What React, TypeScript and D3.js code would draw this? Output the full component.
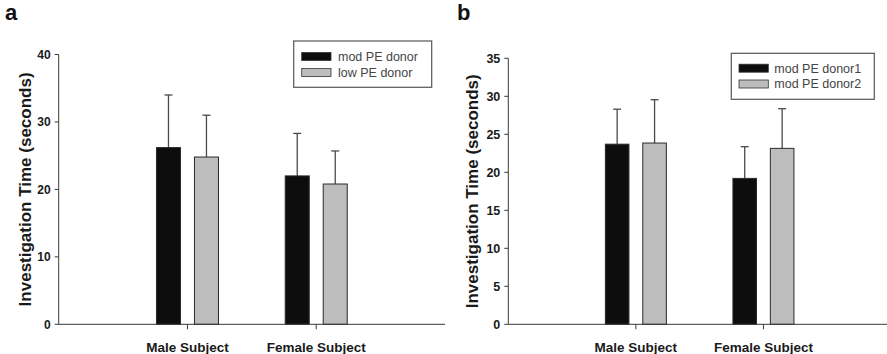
import React from "react";
import * as d3 from "d3";

const categories = ["Male Subject", "Female Subject"];

const seriesA = ["mod PE donor", "low PE donor"];
const meansA = [
  [26.2, 24.8],
  [22.0, 20.8],
];
const errTopA = [
  [34.0, 31.0],
  [28.3, 25.7],
];
const ticksA = [0, 10, 20, 30, 40];

const seriesB = ["mod PE donor1", "mod PE donor2"];
const meansB = [
  [23.7, 23.85],
  [19.2, 23.15],
];
const errTopB = [
  [28.3, 29.55],
  [23.37, 28.37],
];
const ticksB = [0, 5, 10, 15, 20, 25, 30, 35];

const colors = ["#0d0d0d", "#bdbdbd"];
const FONT = "'Liberation Sans', Arial, sans-serif";

type PanelProps = {
  letter: string;
  letterX: number;
  axisLeft: number;
  axisRight: number;
  yTop: number;
  yBottom: number;
  yMax: number;
  ticks: number[];
  tickFont: number;
  series: string[];
  means: number[][];
  errTop: number[][];
  halfGroup: number;
  pad: number;
  ylabelX: number;
  legend: { x: number; y: number; w: number; h: number; swX: number; sw: number; textX: number; rowY: number[] };
};

function Panel(p: PanelProps) {
  const y = d3.scaleLinear().domain([0, p.yMax]).range([p.yBottom, p.yTop]);
  const xc = d3.scaleLinear().domain([-1, 2]).range([p.axisLeft, p.axisRight]);
  const xs = d3.scaleBand<string>().domain(p.series).range([-p.halfGroup, p.halfGroup]).paddingInner(p.pad);
  const bw = xs.bandwidth();
  const yMid = (p.yTop + p.yBottom) / 2;
  return (
    <g>
      <text x={p.letterX} y={20} fontFamily={FONT} fontWeight="bold" fontSize={22} fill="#111">
        {p.letter}
      </text>
      <line x1={p.axisLeft} x2={p.axisLeft} y1={p.yTop} y2={p.yBottom} stroke="#3a3a3a" strokeWidth={1} />
      {p.ticks.map((t) => (
        <g key={t}>
          <line x1={p.axisLeft - 4} x2={p.axisLeft} y1={y(t)} y2={y(t)} stroke="#3a3a3a" />
          <text
            x={p.axisLeft - 8}
            y={y(t)}
            dy="0.35em"
            textAnchor="end"
            fontFamily={FONT}
            fontWeight="bold"
            fontSize={p.tickFont}
            fill="#1a1a1a"
          >
            {t}
          </text>
        </g>
      ))}
      <text
        transform={`translate(${p.ylabelX},${yMid}) rotate(-90)`}
        textAnchor="middle"
        fontFamily={FONT}
        fontWeight="bold"
        fontSize={17}
        fill="#1a1a1a"
      >
        Investigation Time (seconds)
      </text>
      {categories.map((c, ci) => (
        <g key={c}>
          {p.series.map((s, si) => {
            const x0 = xc(ci) + (xs(s) as number);
            const cx = x0 + bw / 2;
            return (
              <g key={s}>
                <line x1={cx} x2={cx} y1={y(p.means[ci][si])} y2={y(p.errTop[ci][si])} stroke="#4a4a4a" strokeWidth={1.3} />
                <line x1={cx - 4} x2={cx + 4} y1={y(p.errTop[ci][si])} y2={y(p.errTop[ci][si])} stroke="#4a4a4a" strokeWidth={1.3} />
                <rect
                  x={x0}
                  y={y(p.means[ci][si])}
                  width={bw}
                  height={y(0) - y(p.means[ci][si])}
                  fill={colors[si]}
                  stroke="#2a2a2a"
                  strokeWidth={1}
                />
              </g>
            );
          })}
          <line x1={xc(ci)} x2={xc(ci)} y1={p.yBottom} y2={p.yBottom + 5} stroke="#3a3a3a" />
          <text
            x={xc(ci)}
            y={351.5}
            textAnchor="middle"
            fontFamily={FONT}
            fontWeight="bold"
            fontSize={13.5}
            fill="#1a1a1a"
          >
            {c}
          </text>
        </g>
      ))}
      <line x1={p.axisLeft} x2={p.axisRight} y1={p.yBottom} y2={p.yBottom} stroke="#3a3a3a" strokeWidth={1} />
      <rect
        x={p.legend.x}
        y={p.legend.y}
        width={p.legend.w}
        height={p.legend.h}
        fill="#fff"
        stroke="#555"
        strokeWidth={1.2}
      />
      {p.series.map((s, si) => (
        <g key={s}>
          <rect
            x={p.legend.swX}
            y={p.legend.rowY[si] - 4}
            width={p.legend.sw}
            height={8}
            fill={colors[si]}
            stroke="#333"
            strokeWidth={0.8}
          />
          <text
            x={p.legend.textX}
            y={p.legend.rowY[si]}
            dy="0.35em"
            fontFamily={FONT}
            fontSize={12.5}
            fill="#444"
          >
            {s}
          </text>
        </g>
      ))}
    </g>
  );
}

export default function App() {
  return (
    <svg
      width={887}
      height={354}
      style={{ position: "absolute", left: 0, top: 0, background: "#fff" }}
    >
      <rect width={887} height={354} fill="#fff" />
      <Panel
        letter="a"
        letterX={5}
        axisLeft={58.7}
        axisRight={445}
        yTop={54.5}
        yBottom={324.3}
        yMax={40}
        ticks={ticksA}
        tickFont={12}
        series={seriesA}
        means={meansA}
        errTop={errTopA}
        halfGroup={31}
        pad={0.368}
        ylabelX={31}
        legend={{ x: 293.7, y: 41, w: 138, h: 46.3, swX: 301.7, sw: 29.3, textX: 338, rowY: [56.5, 72.5] }}
      />
      <Panel
        letter="b"
        letterX={457}
        axisLeft={508.3}
        axisRight={891}
        yTop={58.3}
        yBottom={324.3}
        yMax={35}
        ticks={ticksB}
        tickFont={12.5}
        series={seriesB}
        means={meansB}
        errTop={errTopB}
        halfGroup={30.5}
        pad={0.37}
        ylabelX={478}
        legend={{ x: 731.3, y: 53.3, w: 143, h: 46, swX: 739, sw: 29.3, textX: 774.3, rowY: [68.2, 84] }}
      />
    </svg>
  );
}
